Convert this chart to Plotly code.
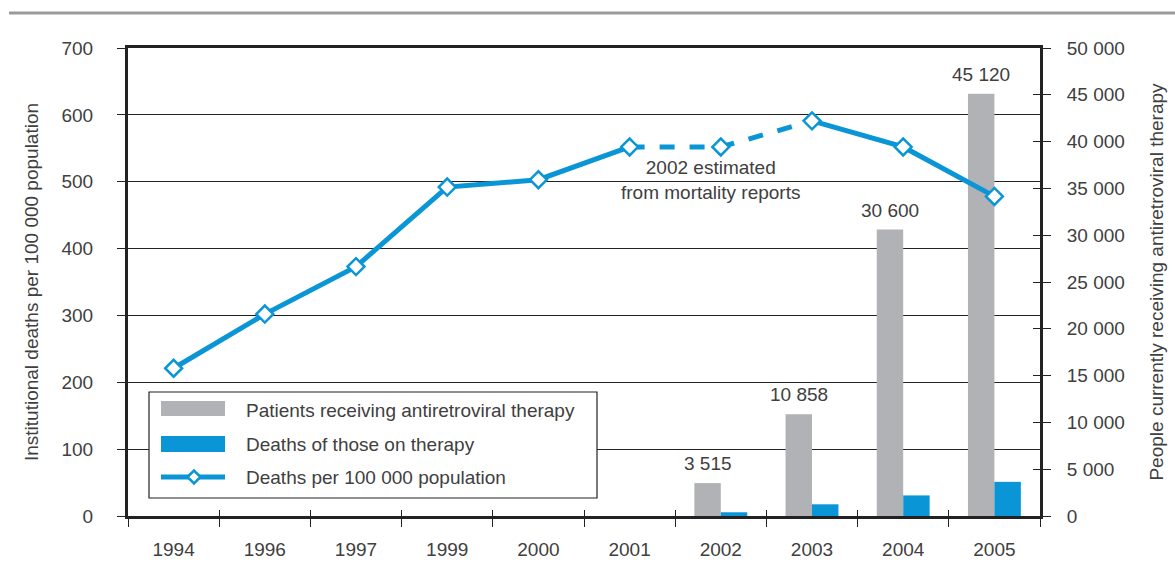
import plotly.graph_objects as go

years = ["1994", "1996", "1997", "1999", "2000", "2001", "2002", "2003", "2004", "2005"]
deaths_per_100k = [221, 302, 373, 492, 503, 552, 552, 591, 552, 478]
patients_on_art = [None, None, None, None, None, None, 3515, 10858, 30600, 45120]
deaths_on_therapy = [None, None, None, None, None, None, 400, 1250, 2200, 3650]

left_ticks = list(range(0, 701, 100))
right_ticks = list(range(0, 50001, 5000))

GREY = "#b1b2b5"
BLUE = "#0a96d6"
TXT = "#404040"
FONT = "Liberation Sans, Arial, sans-serif"
BARGAP = 0.42


def fmt(v):
    return "" if v is None else f"{v:,}".replace(",", " ")


fig = go.Figure()

# Bars on the right axis (base axis "y")
fig.add_trace(go.Bar(
    x=years, y=patients_on_art, name="Patients receiving antiretroviral therapy",
    marker=dict(color=GREY, line=dict(width=0)), yaxis="y", offsetgroup="a",
    showlegend=False))
fig.add_trace(go.Bar(
    x=years, y=deaths_on_therapy, name="Deaths of those on therapy",
    marker=dict(color=BLUE, line=dict(width=0)), yaxis="y", offsetgroup="b",
    showlegend=False))

# Line on the left axis (overlay "y2")
solid1 = [v if i <= 5 else None for i, v in enumerate(deaths_per_100k)]
dashed = [v if 5 <= i <= 7 else None for i, v in enumerate(deaths_per_100k)]
solid2 = [v if i >= 7 else None for i, v in enumerate(deaths_per_100k)]
for seg, dash in ((solid1, "solid"), (dashed, "dash"), (solid2, "solid")):
    fig.add_trace(go.Scatter(x=years, y=seg, yaxis="y2", mode="lines",
                             line=dict(color=BLUE, width=5, dash=dash),
                             connectgaps=False, showlegend=False))
fig.add_trace(go.Scatter(x=years, y=deaths_per_100k, yaxis="y2", mode="markers",
                         marker=dict(symbol="diamond", size=13, color="white",
                                     line=dict(color=BLUE, width=2.5)),
                         showlegend=False, name="Deaths per 100 000 population"))

# empty helper traces for crossing ticks
fig.add_trace(go.Scatter(x=years, y=[None] * len(years), yaxis="y3", mode="lines", showlegend=False))
fig.add_trace(go.Scatter(x=years, y=[None] * len(years), xaxis="x2", yaxis="y", mode="lines", showlegend=False))

axis_font = dict(family=FONT, size=19, color=TXT)

PLOT_W = 1175 - 128 - 135

fig.update_layout(
    width=1175, height=580,
    margin=dict(l=128, r=135, t=48, b=64, autoexpand=False),
    paper_bgcolor="white", plot_bgcolor="white",
    font=dict(family=FONT, size=19, color=TXT),
    barmode="group", bargap=BARGAP, bargroupgap=0,
    xaxis=dict(type="category", categoryorder="array", categoryarray=years,
               range=[-0.5, 9.5], tickson="boundaries", ticks="outside",
               ticklen=8, tickcolor="#222", tickwidth=1.2, automargin=False,
               showline=True, linewidth=3, linecolor="#222", mirror=True,
               showgrid=False, tickfont=axis_font, ticklabelstandoff=14),
    xaxis2=dict(type="category", categoryorder="array", categoryarray=years,
                range=[-0.5, 9.5], tickson="boundaries", ticks="inside",
                ticklen=6, tickcolor="#222", tickwidth=1.2, overlaying="x",
                anchor="y", showticklabels=False, showline=False, showgrid=False,
                automargin=False),
    yaxis=dict(side="right", range=[0, 50000], tickvals=right_ticks,
               ticktext=[fmt(v) for v in right_ticks], ticks="outside",
               ticklen=8, tickcolor="#222", tickwidth=1.2, automargin=False,
               showline=True, linewidth=3, linecolor="#222",
               showgrid=False, zeroline=False, tickfont=axis_font,
               ticklabelstandoff=12,
               title=dict(text="People currently receiving antiretroviral therapy",
                          font=axis_font, standoff=26)),
    yaxis2=dict(side="left", overlaying="y", range=[0, 700], tickvals=left_ticks,
                ticks="outside", ticklen=8, tickcolor="#222", tickwidth=1.2,
                showline=True, linewidth=3, linecolor="#222", automargin=False,
                showgrid=True, gridcolor="#222", gridwidth=1, zeroline=False,
                tickfont=axis_font, ticklabelstandoff=20,
                title=dict(text="Institutional deaths per 100 000 population",
                           font=axis_font, standoff=18)),
    yaxis3=dict(side="right", overlaying="y", range=[0, 50000], tickvals=right_ticks,
                ticks="inside", ticklen=7, tickcolor="#222", tickwidth=1.2,
                automargin=False,
                showticklabels=False, showline=False, showgrid=False, zeroline=False),
    showlegend=False,
)

# value labels above the grey bars (grey bar is the left half of each group)
bar_offset_px = PLOT_W / len(years) * (1 - BARGAP) / 4
for yr, v in zip(years, patients_on_art):
    if v is None:
        continue
    fig.add_annotation(x=years.index(yr), y=v, xref="x", yref="y", text=fmt(v),
                       showarrow=False, yanchor="bottom", xshift=-bar_offset_px,
                       yshift=7, font=dict(family=FONT, size=19, color=TXT))

# annotation on the dashed segment
fig.add_annotation(x=years.index("2002"), y=502, xref="x", yref="y2", xshift=-10,
                   text="2002 estimated<br>from mortality reports", showarrow=False,
                   font=dict(family=FONT, size=19, color=TXT), align="center")

# top rule
fig.add_shape(type="line", xref="paper", yref="paper", x0=-0.1305, x1=1.15,
              y0=1.0748, y1=1.0748, line=dict(color="#9a9a9a", width=3))

# custom legend
def px(xp):
    return (xp - 128) / 912


def py(yp):
    return (516 - yp) / 468


fig.add_shape(type="rect", xref="paper", yref="paper", x0=px(149), x1=px(597),
              y0=py(498), y1=py(392), line=dict(color="#222", width=1.2),
              fillcolor="white", layer="above")
fig.add_shape(type="rect", xref="paper", yref="paper", x0=px(161), x1=px(225),
              y0=py(416), y1=py(401), line=dict(width=0), fillcolor=GREY, layer="above")
fig.add_shape(type="rect", xref="paper", yref="paper", x0=px(161), x1=px(225),
              y0=py(452), y1=py(436), line=dict(width=0), fillcolor=BLUE, layer="above")
fig.add_shape(type="line", xref="paper", yref="paper", x0=px(161), x1=px(225),
              y0=py(477), y1=py(477), line=dict(color=BLUE, width=5), layer="above")
cx, cy, d = 194, 477, 6.5
fig.add_shape(type="path", xref="paper", yref="paper",
              path=f"M {px(cx - d)},{py(cy)} L {px(cx)},{py(cy - d)} L {px(cx + d)},{py(cy)} L {px(cx)},{py(cy + d)} Z",
              fillcolor="white", line=dict(color=BLUE, width=2.5), layer="above")

legend_labels = ["Patients receiving antiretroviral therapy", "Deaths of those on therapy",
                 "Deaths per 100 000 population"]
for lab, yy in zip(legend_labels, [410, 444, 477]):
    fig.add_annotation(x=px(244), y=py(yy), xref="paper", yref="paper", text=lab,
                       showarrow=False, xanchor="left", yanchor="middle",
                       font=dict(family=FONT, size=19, color=TXT))

fig.write_html("out.html", config={"displayModeBar": False},
               post_script="document.body.style.margin='0';document.body.style.overflow='hidden';")
